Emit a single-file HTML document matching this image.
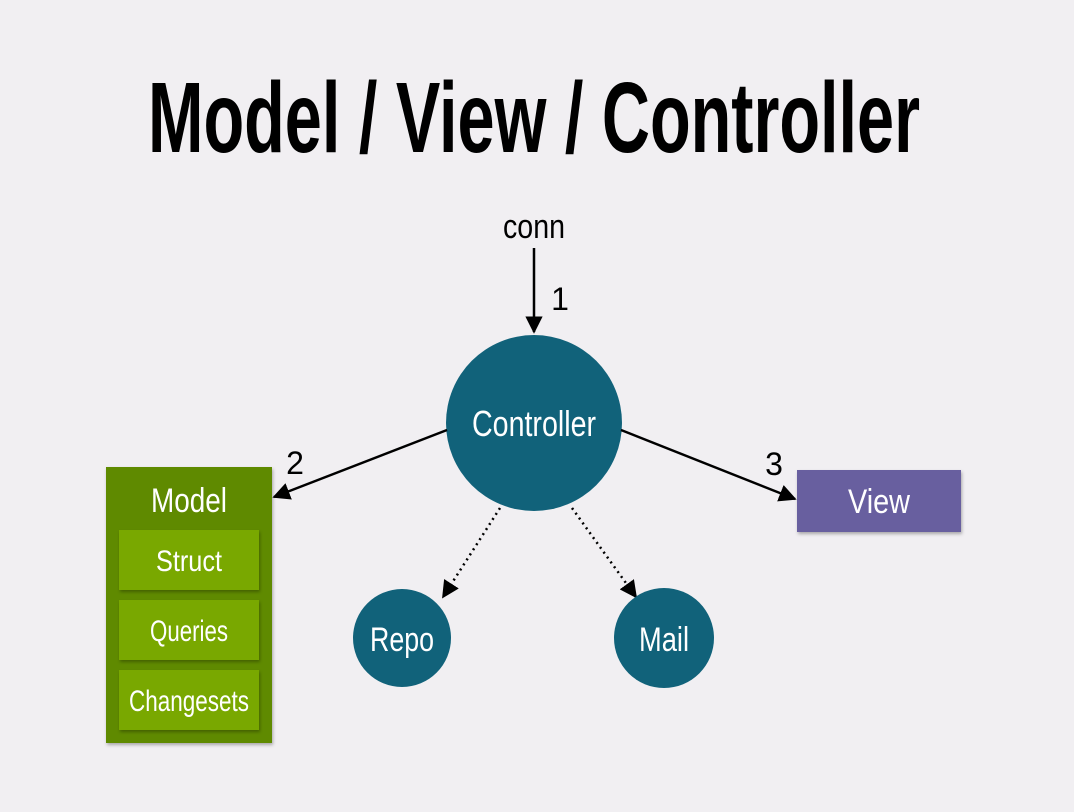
<!DOCTYPE html>
<html><head><meta charset="utf-8"><style>
html,body{margin:0;padding:0;background:#f1eff2;}
svg{display:block}
text{font-family:"Liberation Sans",sans-serif;}
</style></head><body>
<svg width="1074" height="812" viewBox="0 0 1074 812" xmlns="http://www.w3.org/2000/svg">
<defs>
<marker id="ah" viewBox="0 0 10 10" refX="9" refY="5" markerWidth="7" markerHeight="7" orient="auto-start-reverse"><path d="M0,0 L10,5 L0,10 z" fill="#000"/></marker>
<filter id="sh" x="-10%" y="-10%" width="130%" height="130%"><feDropShadow dx="1" dy="2" stdDeviation="1.5" flood-opacity="0.3"/></filter>
</defs>
<rect width="1074" height="812" fill="#f1eff2"/>
<text x="148" y="152" font-size="100" font-weight="bold" textLength="772" lengthAdjust="spacingAndGlyphs" fill="#000">Model / View / Controller</text>
<text x="534" y="238" font-size="34" text-anchor="middle" textLength="62" lengthAdjust="spacingAndGlyphs" fill="#000">conn</text>
<line x1="534" y1="248" x2="534" y2="332" stroke="#000" stroke-width="2.5" marker-end="url(#ah)"/>
<text x="560" y="310" font-size="32" text-anchor="middle" fill="#000">1</text>
<circle cx="534" cy="423" r="88" fill="#11627a"/>
<text x="534" y="436" font-size="36" fill="#fff" text-anchor="middle" textLength="124" lengthAdjust="spacingAndGlyphs">Controller</text>
<line x1="447" y1="430" x2="274" y2="497" stroke="#000" stroke-width="2.5" marker-end="url(#ah)"/>
<text x="295" y="474" font-size="32" text-anchor="middle" fill="#000">2</text>
<line x1="621" y1="430" x2="795" y2="499" stroke="#000" stroke-width="2.5" marker-end="url(#ah)"/>
<text x="774" y="475" font-size="32" text-anchor="middle" fill="#000">3</text>
<line x1="500" y1="508" x2="443" y2="597" stroke="#000" stroke-width="2.5" stroke-dasharray="2 4" marker-end="url(#ah)"/>
<line x1="572" y1="508" x2="636" y2="597" stroke="#000" stroke-width="2.5" stroke-dasharray="2 4" marker-end="url(#ah)"/>
<circle cx="402" cy="638" r="49" fill="#11627a"/>
<text x="402" y="651" font-size="34" fill="#fff" text-anchor="middle" textLength="64" lengthAdjust="spacingAndGlyphs">Repo</text>
<circle cx="664" cy="638" r="50" fill="#11627a"/>
<text x="664" y="651" font-size="34" fill="#fff" text-anchor="middle" textLength="50" lengthAdjust="spacingAndGlyphs">Mail</text>
<rect x="106" y="467" width="166" height="276" fill="#5e8a00" filter="url(#sh)"/>
<text x="189" y="512" font-size="34" fill="#fff" text-anchor="middle" textLength="76" lengthAdjust="spacingAndGlyphs">Model</text>
<rect x="119" y="530" width="140" height="60" fill="#79a800" filter="url(#sh)"/>
<text x="189" y="571" font-size="30" fill="#fff" text-anchor="middle" textLength="66" lengthAdjust="spacingAndGlyphs">Struct</text>
<rect x="119" y="600" width="140" height="60" fill="#79a800" filter="url(#sh)"/>
<text x="189" y="641" font-size="30" fill="#fff" text-anchor="middle" textLength="78" lengthAdjust="spacingAndGlyphs">Queries</text>
<rect x="119" y="670" width="140" height="60" fill="#79a800" filter="url(#sh)"/>
<text x="189" y="711" font-size="30" fill="#fff" text-anchor="middle" textLength="120" lengthAdjust="spacingAndGlyphs">Changesets</text>
<rect x="797" y="470" width="164" height="62" fill="#675f9f" filter="url(#sh)"/>
<text x="879" y="513" font-size="34" fill="#fff" text-anchor="middle" textLength="62" lengthAdjust="spacingAndGlyphs">View</text>
</svg>
</body></html>
